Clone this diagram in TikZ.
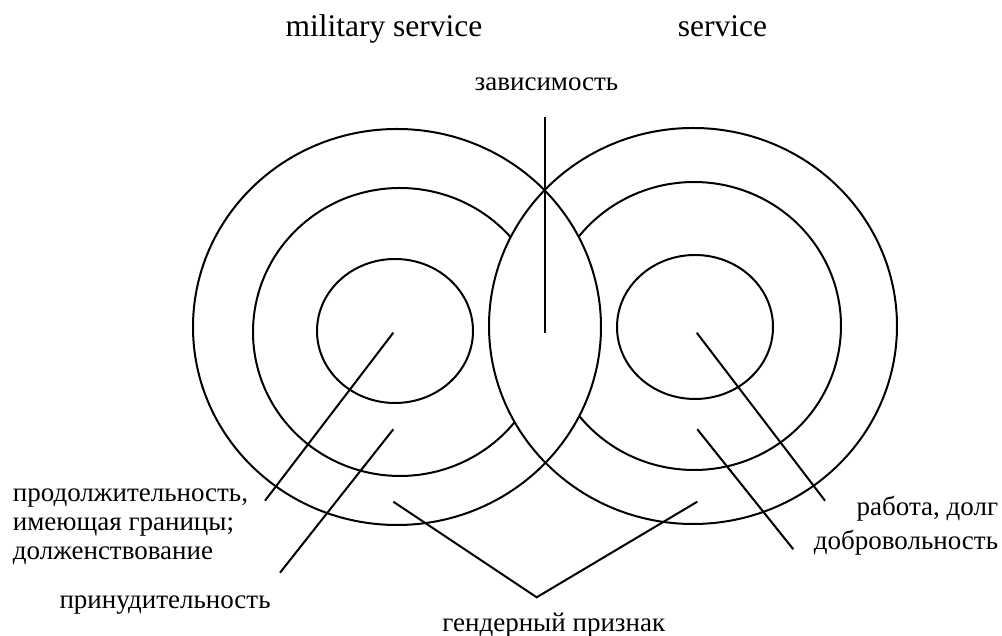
\documentclass[tikz,border=0pt]{standalone}
\usepackage{fontspec}
\setmainfont{Liberation Serif}
\begin{document}
\begin{tikzpicture}[x=1pt,y=1pt,
  ring/.style={draw=black,line width=2pt},
  conn/.style={draw=black,line width=2pt},
  lbl/.style={inner sep=0pt,font=\fontsize{27}{30}\selectfont},
  ttl/.style={inner sep=0pt,font=\fontsize{31.5}{34}\selectfont}]
\useasboundingbox[fill=white] (0,0) rectangle (1002,636);

% outer rings
\draw[ring] (397,309) ellipse [x radius=204,y radius=198];
\draw[ring] (693,310) ellipse [x radius=204,y radius=198];
% middle rings (only outside the other outer ring)
\draw[ring] (400,304) ++(41.1:147 and 144) arc[start angle=41.1,end angle=321.3,x radius=147,y radius=144];
\draw[ring] (694,310) ++(218.6:147 and 144) arc[start angle=218.6,end angle=501.8,x radius=147,y radius=144];
% inner rings
\draw[ring] (395,305) ellipse [x radius=78,y radius=72];
\draw[ring] (695,309) ellipse [x radius=78,y radius=72];

% titles
\node[ttl,anchor=base] (tmil) at (384,599.3) {military service};
\node[ttl,anchor=base] (tser) at (722.5,599.3) {service};

% labels
\node[lbl,anchor=base] (zav) at (546.5,545.3) {зависимость};
\node[lbl,anchor=base west] (prod1) at (12.7,134.3) {продолжительность,};
\node[lbl,anchor=base west] (prod2) at (12.7,105.5) {имеющая границы;};
\node[lbl,anchor=base west] (prod3) at (12.7,76.7) {долженствование};
\node[lbl,anchor=base west] (prin) at (59.3,27.7) {принудительность};
\node[lbl,anchor=base east] (rab) at (998.3,120.3) {работа, долг};
\node[lbl,anchor=base east] (dobr) at (998.3,86) {добровольность};
\node[lbl,anchor=base] (gend) at (553.8,4.3) {гендерный признак};

% connector end points
\coordinate (vtop) at (545,519.3);
\coordinate (vbot) at (545,303.3);
\coordinate (l1a) at (393.3,303.3);
\coordinate (l1b) at (265,135.3);
\coordinate (l2a) at (393.3,206.7);
\coordinate (l2b) at (280,63.3);
\coordinate (ga) at (393.3,134.3);
\coordinate (gv) at (536.7,38.7);
\coordinate (gb) at (697.3,134.3);
\coordinate (r1a) at (696.7,303.3);
\coordinate (r1b) at (825,135.3);
\coordinate (r2a) at (697.3,206.7);
\coordinate (r2b) at (793.3,86.7);

\draw[conn] (vtop) -- (vbot);
\draw[conn] (l1a) -- (l1b);
\draw[conn] (l2a) -- (l2b);
\draw[conn] (ga) -- (gv) -- (gb);
\draw[conn] (r1a) -- (r1b);
\draw[conn] (r2a) -- (r2b);
\end{tikzpicture}
\end{document}
